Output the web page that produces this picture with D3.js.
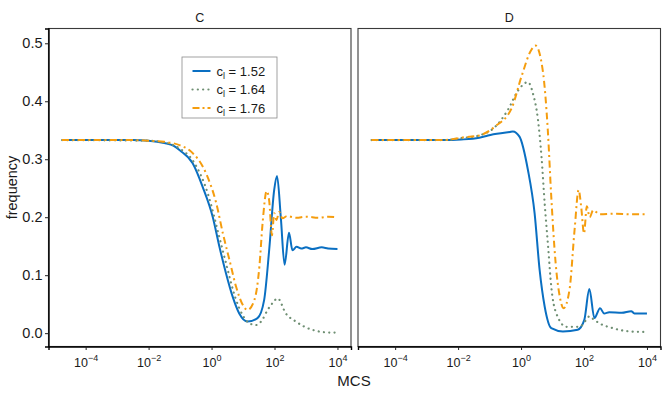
<!DOCTYPE html>
<html>
<head>
<meta charset="utf-8">
<script src="https://cdn.jsdelivr.net/npm/d3@7"></script>
<style>
  body { margin: 0; background: #fff; }
  svg text { font-family: "Liberation Sans", Arial, sans-serif; }
</style>
</head>
<body>
<svg id="chart" width="667" height="393"></svg>
<script>
// log10(MCS) positions and frequencies

// panel C
var cBlueExp = [-4.75, -3, -2.5, -2, -1.5, -1.2, -1.0, -0.6, -0.28, 0.04, 0.25, 0.46, 0.67, 0.88, 1.14, 1.46, 1.67, 1.83, 1.99, 2.08, 2.2, 2.32, 2.46, 2.57, 2.7, 2.85, 3.0, 3.2, 3.5, 3.7, 4.0];
var cBlueVal = [0.333, 0.333, 0.333, 0.332, 0.328, 0.323, 0.315, 0.293, 0.252, 0.2, 0.149, 0.103, 0.063, 0.034, 0.020, 0.026, 0.057, 0.143, 0.247, 0.271, 0.2, 0.118, 0.173, 0.143, 0.149, 0.146, 0.148, 0.145, 0.148, 0.146, 0.145];

var cGrayExp = [-4.75, -2, -1.5, -1.0, -0.6, -0.12, 0.25, 0.5, 0.75, 1.0, 1.2, 1.41, 1.6, 1.78, 1.94, 2.1, 2.36, 2.68, 3.2, 3.78, 4.0];
var cGrayVal = [0.333, 0.332, 0.329, 0.318, 0.298, 0.241, 0.165, 0.112, 0.062, 0.030, 0.017, 0.014, 0.022, 0.040, 0.052, 0.060, 0.034, 0.020, 0.0057, 0.001, 0.001];

var cOrangeExp = [-4.75, -2.5, -2, -1.5, -1.0, -0.69, -0.17, 0.15, 0.36, 0.57, 0.78, 0.99, 1.14, 1.36, 1.52, 1.62, 1.75, 1.83, 1.92, 1.99, 2.06, 2.15, 2.25, 2.4, 2.7, 3.0, 3.4, 3.7, 4.0];
var cOrangeVal = [0.333, 0.333, 0.332, 0.330, 0.324, 0.315, 0.275, 0.224, 0.172, 0.126, 0.080, 0.049, 0.040, 0.057, 0.115, 0.189, 0.245, 0.229, 0.169, 0.207, 0.195, 0.209, 0.198, 0.202, 0.199, 0.201, 0.199, 0.201, 0.200];

// panel D
var dBlueExp = [-4.75, -2.5, -1.9, -1.33, -1.05, -0.36, -0.26, -0.05, 0.22, 0.43, 0.59, 0.75, 0.96, 1.33, 1.8, 2.01, 2.17, 2.33, 2.51, 2.64, 2.8, 3.2, 3.5, 3.6, 4.0];
var dBlueVal = [0.333, 0.333, 0.334, 0.337, 0.341, 0.347, 0.348, 0.339, 0.281, 0.207, 0.109, 0.046, 0.0086, 0.003, 0.006, 0.023, 0.076, 0.026, 0.043, 0.034, 0.036, 0.035, 0.038, 0.034, 0.034];

var dGrayExp = [-4.75, -2.5, -1.8, -1.33, -0.84, -0.42, -0.1, 0.22, 0.38, 0.54, 0.65, 0.75, 0.86, 0.96, 1.12, 1.44, 1.86, 2.07, 2.17, 2.3, 2.49, 2.92, 3.45, 4.0];
var dGrayVal = [0.333, 0.333, 0.337, 0.341, 0.355, 0.385, 0.418, 0.433, 0.413, 0.367, 0.304, 0.224, 0.149, 0.080, 0.034, 0.011, 0.011, 0.023, 0.029, 0.024, 0.017, 0.0086, 0.003, 0.002];

var dOrangeExp = [-4.75, -2.5, -1.8, -1.33, -0.84, -0.3, 0.01, 0.32, 0.46, 0.69, 0.85, 0.96, 1.1, 1.23, 1.35, 1.54, 1.7, 1.83, 1.91, 2.0, 2.09, 2.18, 2.29, 2.5, 3.0, 3.5, 4.0];
var dOrangeVal = [0.333, 0.333, 0.338, 0.341, 0.356, 0.388, 0.442, 0.488, 0.496, 0.453, 0.35, 0.235, 0.12, 0.063, 0.043, 0.075, 0.178, 0.247, 0.218, 0.172, 0.219, 0.200, 0.212, 0.205, 0.206, 0.205, 0.205];

var panelNames = ["C", "D"];
var seriesLabels = ["1.52", "1.64", "1.76"];
var xTickExps = [-4, -2, 0, 2, 4];
var yTicks = [0.0, 0.1, 0.2, 0.3, 0.4, 0.5];

var colors = ["#0a6fc2", "#6f8f73", "#f59d0e"];
var dashes = [null, "0.1,5.2", "7,3.5,2,3.5"];
var widths = [2, 2.2, 2];

var panels = [
  { name: panelNames[0], x0: 48.5, series: [[cBlueExp, cBlueVal], [cGrayExp, cGrayVal], [cOrangeExp, cOrangeVal]] },
  { name: panelNames[1], x0: 358, series: [[dBlueExp, dBlueVal], [dGrayExp, dGrayVal], [dOrangeExp, dOrangeVal]] }
];

var pw = 302.5, yTop = 28.5, yBottom = 346.5;
var svg = d3.select("#chart");

var y = d3.scaleLinear().domain([-0.023, 0.5255]).range([yBottom, yTop]);

panels.forEach(function(p, pi) {
  var x = d3.scaleLog().domain([Math.pow(10, -5.18), Math.pow(10, 4.43)]).range([p.x0, p.x0 + pw]);
  var g = svg.append("g");

  // strip label
  g.append("text")
    .attr("x", p.x0 + pw / 2).attr("y", 21.5)
    .attr("text-anchor", "middle")
    .attr("font-size", 12.5).attr("fill", "#1a1a1a")
    .text(p.name);

  // lines
  var line = d3.line()
    .x(function(d) { return x(Math.pow(10, d[0])); })
    .y(function(d) { return y(d[1]); })
    .curve(d3.curveMonotoneX);

  p.series.forEach(function(s, si) {
    var pts = s[0].map(function(e, i) { return [e, s[1][i]]; });
    g.append("path")
      .datum(pts)
      .attr("d", line)
      .attr("fill", "none")
      .attr("stroke", colors[si])
      .attr("stroke-width", widths[si])
      .attr("stroke-linecap", si == 1 ? "round" : "butt")
      .attr("stroke-dasharray", dashes[si]);
  });

  // panel border
  g.append("rect")
    .attr("x", p.x0).attr("y", yTop)
    .attr("width", pw).attr("height", yBottom - yTop)
    .attr("fill", "none").attr("stroke", "#3a3a3a").attr("stroke-width", 1.1);

  // x axis
  var xa = g.append("g")
    .attr("transform", "translate(0," + yBottom + ")")
    .call(d3.axisBottom(x)
      .tickValues(xTickExps.map(function(e) { return Math.pow(10, e); }))
      .tickSize(3.5).tickPadding(4)
      .tickFormat(function() { return ""; }));
  xa.select(".domain").attr("stroke", "#000").attr("stroke-width", 1.4);
  xa.selectAll(".tick line").attr("stroke", "#222").attr("stroke-width", 1);
  xa.selectAll(".tick text").each(function(d, i) {
    var t = d3.select(this)
      .attr("font-size", 12.5).attr("fill", "#1a1a1a")
      .attr("font-family", "'Liberation Sans', Arial, sans-serif")
      .attr("dy", null).attr("y", 20);
    t.append("tspan").text("10");
    t.append("tspan")
      .attr("font-size", 9).attr("dy", -5.5)
      .text(xTickExps[i] < 0 ? "\u2212" + (-xTickExps[i]) : String(xTickExps[i]));
  });

  if (pi == 0) {
    var ya = g.append("g")
      .attr("transform", "translate(" + p.x0 + ",0)")
      .call(d3.axisLeft(y).tickValues(yTicks).tickSize(3.5).tickPadding(2.5)
        .tickFormat(d3.format(".1f")));
    ya.select(".domain").attr("stroke", "#000").attr("stroke-width", 1.4);
    ya.selectAll(".tick line").attr("stroke", "#222");
    ya.selectAll(".tick text")
      .attr("font-size", 14.5).attr("fill", "#1a1a1a")
      .attr("font-family", "'Liberation Sans', Arial, sans-serif");

    // legend
    var lg = g.append("g");
    lg.append("rect")
      .attr("x", 182).attr("y", 57).attr("width", 95).attr("height", 61)
      .attr("fill", "#fff").attr("stroke", "#8a8a8a").attr("stroke-width", 0.8);
    var rows = [71, 89.5, 108];
    seriesLabels.forEach(function(lab, si) {
      lg.append("line")
        .attr("x1", 192.5).attr("x2", 210.5)
        .attr("y1", rows[si]).attr("y2", rows[si])
        .attr("stroke", colors[si]).attr("stroke-width", widths[si])
        .attr("stroke-linecap", si == 1 ? "round" : "butt")
        .attr("stroke-dasharray", si == 2 ? "7,3,2,3" : dashes[si]);
      var t = lg.append("text")
        .attr("x", 216.5).attr("y", rows[si] + 4.5)
        .attr("font-size", 13).attr("fill", "#1a1a1a");
      t.append("tspan").text("c");
      t.append("tspan").attr("font-size", 9).attr("dy", 3).text("l");
      t.append("tspan").attr("dy", -3).text(" = " + lab);
    });
  }
});

// axis titles
svg.append("text")
  .attr("transform", "translate(16.5," + ((yTop + yBottom) / 2) + ") rotate(-90)")
  .attr("text-anchor", "middle")
  .attr("font-size", 14.5).attr("fill", "#1a1a1a")
  .text("frequency");

svg.append("text")
  .attr("x", 354).attr("y", 385.5)
  .attr("text-anchor", "middle")
  .attr("font-size", 15).attr("fill", "#1a1a1a")
  .text("MCS");
</script>
</body>
</html>
